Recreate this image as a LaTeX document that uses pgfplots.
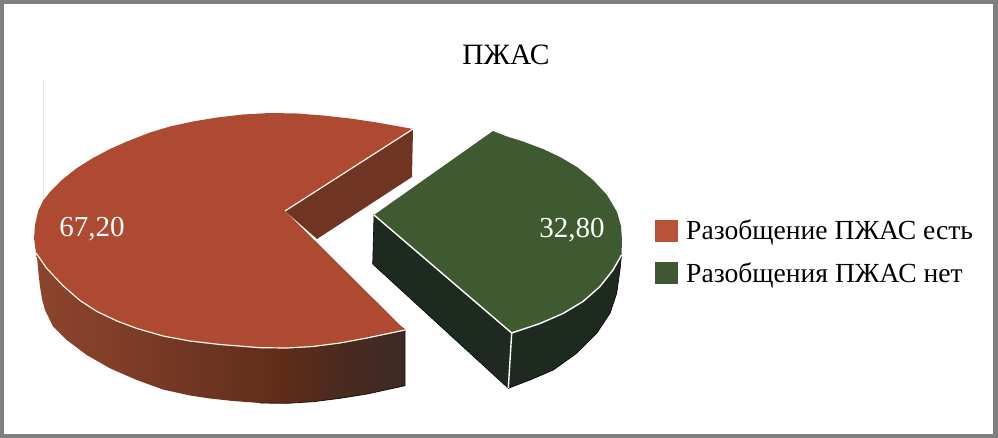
\documentclass[border=0pt]{standalone}
\usepackage{fontspec}
\setmainfont{Liberation Serif}
\usepackage{pgfplots}
\pgfplotsset{compat=1.18}
\definecolor{frameg}{HTML}{7F7F7F}
\definecolor{redtop}{HTML}{AE4A31}
\definecolor{redin}{HTML}{6F3522}
\definecolor{grntop}{HTML}{3F5A31}
\definecolor{grnwall}{HTML}{1E2A20}
\definecolor{cream}{HTML}{FFF8EE}
\definecolor{legred}{HTML}{B8533A}
\definecolor{leggrn}{HTML}{3F5733}
\definecolor{wa}{HTML}{8C452C}
\definecolor{wb}{HTML}{843F29}
\definecolor{wc}{HTML}{713624}
\definecolor{wd}{HTML}{5F2C19}
\definecolor{we}{HTML}{4A2A1F}
\definecolor{wf}{HTML}{3C2A24}
\pgfdeclarehorizontalshading{redwall}{100bp}{
 color(0bp)=(wa);
 color(25bp)=(wa);
 color(33.7bp)=(wb);
 color(45.9bp)=(wc);
 color(58.7bp)=(wd);
 color(66bp)=(we);
 color(75bp)=(wf);
 color(100bp)=(wf)}
\begin{document}
\begin{tikzpicture}
\begin{axis}[
  scale only axis, width=998pt, height=438pt,
  xmin=0, xmax=998, ymin=0, ymax=438, y dir=reverse,
  hide axis, clip=true,
  legend style={at={(axis cs:655,218)}, anchor=north west, draw=none, fill=none,
    font=\fontsize{27.6}{32}\selectfont, row sep=17pt, inner sep=0pt},
  legend cell align=left,
  legend image code/.code={\fill[#1] (0pt,-11pt) rectangle (23pt,11pt);\path (29pt,0pt);},
]
% frame
\addplot[forget plot, draw=none, fill=frameg] coordinates {(0,0)(998,0)(998,4)(0,4)};
\addplot[forget plot, draw=none, fill=frameg] coordinates {(0,434)(998,434)(998,438)(0,438)};
\addplot[forget plot, draw=none, fill=frameg] coordinates {(0,0)(4,0)(4,438)(0,438)};
\addplot[forget plot, draw=none, fill=frameg] coordinates {(993,0)(998,0)(998,438)(993,438)};
\addplot[forget plot, color=black!10, line width=1pt] coordinates {(43,80)(43,240)};
% red outer wall
\addplot[forget plot, draw=none, shade, shading=redwall] coordinates {
 (36,253)(37.3,260)(38.5,273)(40,287)(42,299)(45,310)(53,326.5)(66.7,340)(86.7,355)(110,368.3)(136.7,380)
 (163,389.5)(190,395.5)(210,398.5)(233,401)(260,403)(287,403.3)(313,401.7)(340,398.3)(367,394)(405,385.7)
 (405,329)(285,250)} --cycle;
\addplot[forget plot, color=black!70!redin, line width=0.8pt] coordinates {(405,330)(405,385.7)(367,394)(340,398.3)(313,401.7)(287,403.3)(260,403)};
% red inner wall
\addplot[forget plot, draw=none, fill=redin] coordinates {(285,211)(413,129)(412,177)(317,239)} --cycle;
% red top
\addplot[forget plot, draw=none, fill=redtop] coordinates {
 (413,129)(377,122.5)(350,118.5)(323,115.5)(297,113.5)(270,113)(243,114.5)(217,117.5)(193,121.5)(170,126.5)
 (150,132.5)(127,141.5)(110,149)(93,158)(77,168)(63,179)(50,192)(43.3,200.5)(38.3,210.5)(35,225)(34,238)(36,253)
 (46.7,268.3)(63.3,286)(80,300.5)(97,311.5)(117,321)(137,328.5)(163,336)(190,341)(220,344.5)(260,347.7)(287,348)
 (313,346.5)(340,343)(367,338)(405,330)(285,211)} --cycle;
\addplot[forget plot, color=cream, line width=1.2pt] coordinates {
 (36,253)(46.7,268.3)(63.3,286)(80,300.5)(97,311.5)(117,321)(137,328.5)(163,336)(190,341)(220,344.5)(260,347.7)(287,348)
 (313,346.5)(340,343)(367,338)(405,330)};
\addplot[forget plot, color=cream, line width=1.2pt] coordinates {(413,129)(285,211)};
% green walls
\addplot[forget plot, draw=black, line width=0.6pt, fill=grnwall] coordinates {
 (374,215)(511.7,333)(508.3,388.3)(372.7,264)} --cycle;
\addplot[forget plot, draw=black, line width=0.6pt, fill=grnwall] coordinates {
 (511.7,333)(621.5,255)(620,270)(616.7,293.3)(610,313.3)(596.7,333.3)(576.7,353.3)(553.3,370)(530,380)(508.3,388.3)} --cycle;
% green top
\addplot[forget plot, draw=none, fill=grntop] coordinates {
 (493,131)(507,136.5)(523,141.5)(543,149)(560,157)(577,167)(593,180)(607,195)(617,212)(621,226)(622,240)(621.5,255)
 (613,270)(600,286.5)(583,301.5)(563,313.5)(540,323.5)(511.7,333)(374,215)} --cycle;
\addplot[forget plot, color=white, line width=1.4pt] coordinates {(621.5,255)(613,270)(600,286.5)(583,301.5)(563,313.5)(540,323.5)(511.7,333)};
\addplot[forget plot, color=white, line width=1.4pt] coordinates {(374,215)(511.7,333)(508.3,388)};
% legend
\addlegendimage{fill=legred, draw=none}
\addlegendentry{Разобщение ПЖАС есть}
\addlegendimage{fill=leggrn, draw=none}
\addlegendentry{Разобщения ПЖАС нет}
% text
\node[font=\fontsize{29.5}{32}\selectfont, text=black] at (axis cs:506,55) {ПЖАС};
\node[font=\fontsize{29}{32}\selectfont, text=white] at (axis cs:92,229.5) {67,20};
\node[font=\fontsize{29}{32}\selectfont, text=white] at (axis cs:572,230) {32,80};
\end{axis}
\end{tikzpicture}
\end{document}
